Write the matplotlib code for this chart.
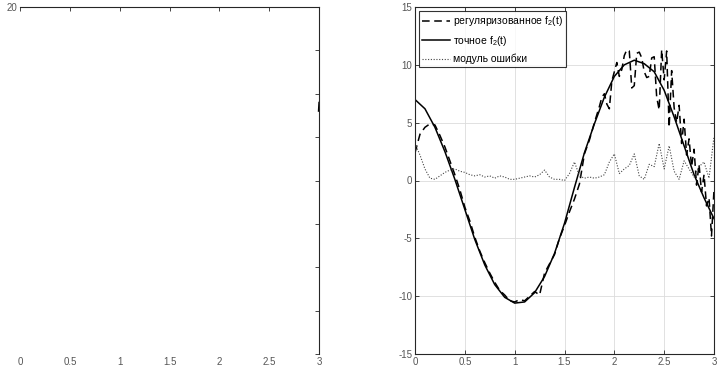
import matplotlib
matplotlib.use("Agg")
import matplotlib.pyplot as plt
import numpy as np

plt.rcParams['font.family'] = ['Liberation Sans', 'DejaVu Sans']
plt.rcParams['mathtext.fontset'] = 'custom'
plt.rcParams['mathtext.rm'] = 'Liberation Sans'
plt.rcParams['mathtext.it'] = 'Liberation Sans'
plt.rcParams['axes.unicode_minus'] = False

# exact f2(t), step 0.1
t_exact = np.round(np.arange(0, 3.0001, 0.1), 3)
f_exact = [7.0, 6.2, 4.6, 2.5, 0.1, -2.5, -5.1, -7.3, -9.0, -10.1, -10.6,
           -10.5, -9.7, -8.3, -6.3, -3.7, -0.6, 2.4, 4.9, 7.2, 9.0,
           10.0, 10.4, 10.1, 9.4, 7.8, 5.5, 3.0, 0.5, -1.5, -3.3]

# regularized f2(t): step 0.05 up to 1.8, then 0.025
t_reg = np.round(np.r_[np.arange(0, 1.826, 0.05), np.arange(1.85, 3.0001, 0.025)], 3)
f_reg = [2.4, 4.0, 4.6, 4.9, 4.8, 3.9, 2.9, 1.7, 0.5, -0.8,
         -2.3, -3.5, -4.9, -6.1, -7.1, -8.0, -8.8, -9.5, -9.9, -10.4,
         -10.5, -10.3, -10.4, -10.0, -9.6, -9.9, -8.0, -7.2, -6.4, -5.0,
         -3.9, -2.7, -1.6, -0.3, 2.3, 3.5, 5.0,
         6.4, 7.2, 7.5, 6.6, 6.2, 8.6, 9.4, 10.2, 9.0, 9.6,
         10.8, 11.3, 11.2, 8.0, 8.2, 11.0, 11.1, 10.6, 9.4, 8.9,
         9.0, 10.6, 10.7, 7.2, 6.1, 11.3, 8.7, 11.2, 4.6, 9.5,
         6.3, 5.0, 6.5, 3.2, 5.3, 2.2, 3.6, 1.2, 2.7, -0.4,
         1.4, -1.0, 0.5, -2.2, -1.5, -4.8, -0.8]

# |error|, step 0.05
t_err = np.round(np.arange(0, 3.0001, 0.05), 3)
err = [3.2, 2.2, 1.0, 0.2, 0.1, 0.4, 0.7, 0.9, 1.0, 0.8,
       0.7, 0.5, 0.4, 0.5, 0.3, 0.4, 0.2, 0.4, 0.3, 0.1,
       0.1, 0.2, 0.3, 0.4, 0.3, 0.5, 0.9, 0.3, 0.1, 0.1,
       0.0, 0.6, 1.6, 0.4, 0.2, 0.3, 0.2, 0.3, 0.5, 1.6,
       2.3, 0.6, 1.0, 1.3, 2.3, 0.4, 0.1, 1.4, 1.2, 3.2,
       1.0, 3.0, 0.8, 0.1, 1.7, 1.0, 0.3, 1.2, 1.6, 0.2, 3.8]

# stray fragment visible at the right edge of the left panel
t_left = [2.995, 3.0]
f_left = [8.0, 9.0]

xticks = [0, 0.5, 1, 1.5, 2, 2.5, 3]
xticklabels = ['0', '0.5', '1', '1.5', '2', '2.5', '3']
axc = '#262626'

fig = plt.figure(figsize=(7.2, 3.71), dpi=100)

# left (mostly empty, clipped) panel
ax1 = fig.add_axes([20 / 720, 1 - 354 / 371, 299 / 720, 347 / 371])
ax1.plot(t_left, f_left, color='k', lw=1.0)
ax1.set_xlim(0, 3)
ax1.set_ylim(-20, 20)
ax1.set_xticks(xticks)
ax1.set_xticklabels(xticklabels)
ax1.set_yticks(np.arange(-20, 21, 5))
ax1.set_yticklabels([''] * 8 + ['20'])
for s in ['left', 'bottom']:
    ax1.spines[s].set_visible(False)
for s in ['top', 'right']:
    ax1.spines[s].set_color(axc)
    ax1.spines[s].set_linewidth(0.8)
ax1.tick_params(direction='in', top=True, right=True, bottom=False, left=False,
                length=3, width=0.6, colors=axc, labelsize=7, labelcolor='#555555', pad=2)

# right panel
ax = fig.add_axes([415 / 720, 1 - 354 / 371, 299 / 720, 347 / 371])
ax.plot(t_reg, f_reg, color='k', lw=1.1, linestyle=(0, (5, 3)),
        label='регуляризованное f$_2$(t)')
ax.plot(t_exact, f_exact, color='k', lw=1.1, label='точное f$_2$(t)')
ax.plot(t_err, err, color='#444444', lw=0.8, linestyle=(0, (1, 1.5)),
        label='модуль ошибки')
ax.set_xlim(0, 3)
ax.set_ylim(-15, 15)
ax.set_xticks(xticks)
ax.set_xticklabels(xticklabels)
ax.set_yticks(np.arange(-15, 16, 5))
ax.grid(True, color='#dcdcdc', lw=0.6)
ax.set_axisbelow(True)
for s in ax.spines.values():
    s.set_color(axc)
    s.set_linewidth(0.8)
ax.tick_params(direction='in', top=True, right=True, length=3, width=0.6,
               colors=axc, labelsize=7, labelcolor='#555555', pad=2)
leg = ax.legend(loc='upper left', bbox_to_anchor=(0.012, 0.988), fontsize=7.5,
                frameon=True, fancybox=False, edgecolor='k', borderpad=0.3,
                labelspacing=0.55, handlelength=2.7, handletextpad=0.3,
                borderaxespad=0)
leg.get_frame().set_linewidth(0.8)

fig.savefig('out.png', dpi=100)
